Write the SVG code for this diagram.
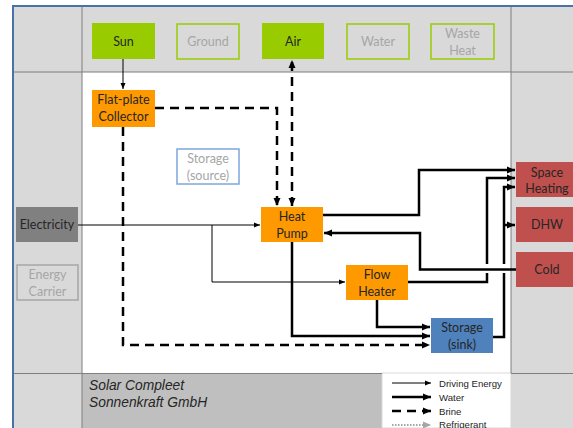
<svg xmlns="http://www.w3.org/2000/svg" width="573" height="428" viewBox="0 0 573 428">
<style>
.lbl{font-family:Lato,"Noto Sans","Liberation Sans",sans-serif;font-size:12.5px;text-anchor:middle;fill:#262626}
.dim{fill:#a6a6a6}
.thin{fill:none;stroke:#000;stroke-width:1}
.water{fill:none;stroke:#000;stroke-width:2.5}
.brine{fill:none;stroke:#000;stroke-width:2.5;stroke-dasharray:9 6}
.grid{stroke:#7f7f7f;stroke-width:1;fill:none}
.leg{font-family:"Liberation Sans",Arial,sans-serif;font-size:9.6px;fill:#262626}
</style>
<defs>
<marker id="at" markerUnits="userSpaceOnUse" markerWidth="8" markerHeight="8" refX="7" refY="4" orient="auto"><path d="M1,1.5 L7,4 L1,6.5 Z" fill="#000"/></marker>
<marker id="ak" markerUnits="userSpaceOnUse" markerWidth="10" markerHeight="10" refX="9" refY="5" orient="auto-start-reverse"><path d="M1,1.5 L9,5 L1,8.5 Z" fill="#000"/></marker>
<marker id="ag" markerUnits="userSpaceOnUse" markerWidth="10" markerHeight="10" refX="9" refY="5" orient="auto"><path d="M1,1.5 L9,5 L1,8.5 Z" fill="#a6a6a6"/></marker>
</defs>
<rect x="0" y="0" width="573" height="428" fill="#fff"/>
<rect x="13" y="6" width="560" height="66" fill="#d9d9d9"/>
<rect x="13" y="72" width="69" height="356" fill="#d9d9d9"/>
<rect x="511" y="72" width="62" height="356" fill="#d9d9d9"/>
<rect x="82" y="373" width="300" height="55" fill="#bfbfbf"/>
<rect x="382" y="373" width="129" height="55" fill="#fff" stroke="#d9d9d9" stroke-width="1"/>
<line class="grid" x1="82" y1="6" x2="82" y2="428"/>
<line class="grid" x1="511" y1="6" x2="511" y2="373"/>
<line class="grid" x1="13" y1="72" x2="573" y2="72"/>
<line class="grid" x1="13" y1="373.5" x2="382" y2="373.5"/>
<line class="grid" x1="511" y1="373.5" x2="573" y2="373.5"/>
<line x1="13" y1="6" x2="573" y2="6" stroke="#4a72a8" stroke-width="2"/>
<line x1="13" y1="5" x2="13" y2="428" stroke="#4a72a8" stroke-width="2"/>

<g id="connectors">
<path class="thin" d="M123,59 V89" marker-end="url(#at)"/>
<path class="brine" d="M155,108 H277 V206" marker-end="url(#ak)"/>
<path class="brine" d="M292,206 V60" marker-end="url(#ak)" marker-start="url(#ak)"/>
<path class="brine" d="M123,127 V345 H430" marker-end="url(#ak)"/>
<path class="thin" d="M78,225 H260" marker-end="url(#at)"/>
<path class="thin" d="M212,225 V282 H345" marker-end="url(#at)"/>
<path class="water" d="M323,215 H419 V170 H515" marker-end="url(#ak)"/>
<path class="water" d="M516,269.5 H420 V233 H324" marker-end="url(#ak)"/>
<path class="water" d="M408,282 H487 V273"/>
<path class="water" d="M487,264 V178 H515" marker-end="url(#ak)"/>
<path class="water" d="M493,337 H504 V273"/>
<path class="water" d="M504,264 V187 H515" marker-end="url(#ak)"/>
<path class="water" d="M504,225 H515" marker-end="url(#ak)"/>
<path class="water" d="M292,242 V336 H430" marker-end="url(#ak)"/>
<path class="water" d="M377,300 V327 H430" marker-end="url(#ak)"/>
</g>

<g id="sun"><rect x="92" y="23" width="63" height="36" fill="#99cc00"/><text class="lbl" x="123.5" y="46">Sun</text></g>
<g id="ground"><rect x="177" y="24" width="62" height="35" fill="#d9d9d9" stroke="#99cc00" stroke-width="1.5"/><text class="lbl dim" x="208" y="46">Ground</text></g>
<g id="air"><rect x="262" y="23" width="62" height="36" fill="#99cc00"/><text class="lbl" x="293" y="46">Air</text></g>
<g id="water"><rect x="347" y="24" width="62" height="35" fill="#d9d9d9" stroke="#99cc00" stroke-width="1.5"/><text class="lbl dim" x="378" y="46">Water</text></g>
<g id="wasteheat"><rect x="431" y="24" width="63" height="35" fill="#d9d9d9" stroke="#99cc00" stroke-width="1.5"/><text class="lbl dim" x="462.5" y="38">Waste</text><text class="lbl dim" x="462.5" y="55">Heat</text></g>

<g id="collector"><rect x="92" y="90" width="63" height="37" fill="#ff9900"/><text class="lbl" x="123.5" y="104">Flat-plate</text><text class="lbl" x="123.5" y="121">Collector</text></g>
<g id="storagesource"><rect x="177" y="149" width="62" height="35" fill="#fff" stroke="#7ea6dc" stroke-width="1.5"/><text class="lbl dim" x="208" y="163">Storage</text><text class="lbl dim" x="208" y="180">(source)</text></g>
<g id="electricity"><rect x="16" y="207" width="62" height="35" fill="#808080"/><text class="lbl" x="47" y="229">Electricity</text></g>
<g id="energycarrier"><rect x="17" y="265" width="61" height="35" fill="#d9d9d9" stroke="#a6a6a6" stroke-width="1.5"/><text class="lbl dim" x="47.5" y="279">Energy</text><text class="lbl dim" x="47.5" y="296">Carrier</text></g>

<g id="heatpump"><rect x="261" y="207" width="62" height="35" fill="#ff9900"/><text class="lbl" x="292" y="221">Heat</text><text class="lbl" x="292" y="238">Pump</text></g>
<g id="flowheater"><rect x="346" y="265" width="62" height="35" fill="#ff9900"/><text class="lbl" x="377" y="279">Flow</text><text class="lbl" x="377" y="296">Heater</text></g>
<g id="storagesink"><rect x="431" y="318" width="62" height="35" fill="#4f81bd"/><text class="lbl" x="462" y="332">Storage</text><text class="lbl" x="462" y="349">(sink)</text></g>

<g id="spaceheating"><rect x="516" y="162" width="62" height="35" fill="#c0504d"/><text class="lbl" x="547" y="177">Space</text><text class="lbl" x="547" y="193">Heating</text></g>
<g id="dhw"><rect x="516" y="207" width="62" height="35" fill="#c0504d"/><text class="lbl" x="547" y="229">DHW</text></g>
<g id="cold"><rect x="516" y="252" width="62" height="35" fill="#c0504d"/><text class="lbl" x="547" y="274">Cold</text></g>

<g id="footer">
<text x="89" y="390" font-family="'Liberation Sans',Arial,sans-serif" font-style="italic" font-size="13.8" fill="#262626">Solar Compleet</text>
<text x="89" y="407" font-family="'Liberation Sans',Arial,sans-serif" font-style="italic" font-size="13.8" fill="#262626">Sonnenkraft GmbH</text>
</g>
<g id="legend">
<path class="thin" d="M392,383 H431" marker-end="url(#at)"/>
<path class="water" d="M392,397 H431" marker-end="url(#ak)"/>
<path class="brine" d="M392,411 H431" stroke-dasharray="8 6" marker-end="url(#ak)"/>
<path d="M392,425 H431" fill="none" stroke="#a6a6a6" stroke-width="2" stroke-dasharray="1.5 1.5" marker-end="url(#ag)"/>
<text class="leg" x="439" y="386.5">Driving Energy</text>
<text class="leg" x="439" y="400.5">Water</text>
<text class="leg" x="439" y="414.5">Brine</text>
<text class="leg" x="439" y="428">Refrigerant</text>
</g>
</svg>
